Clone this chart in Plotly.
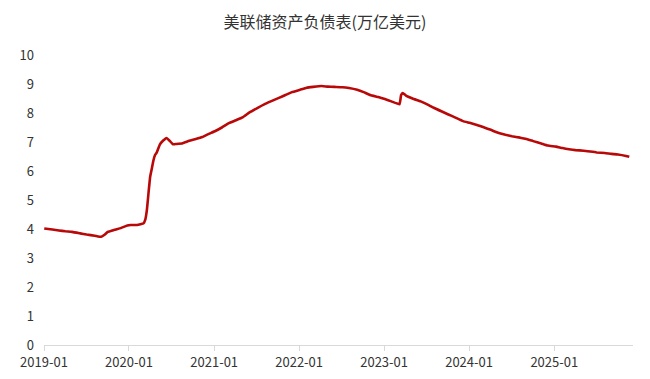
import plotly.graph_objects as go

dates = [
    "2019-01-02", "2019-02-06", "2019-03-06", "2019-04-03", "2019-05-01", "2019-06-05",
    "2019-07-03", "2019-08-07", "2019-09-04", "2019-09-18", "2019-10-02", "2019-10-30",
    "2019-11-27", "2019-12-25", "2020-01-08", "2020-02-05", "2020-03-04", "2020-03-11",
    "2020-03-18", "2020-03-25", "2020-04-01", "2020-04-08", "2020-04-15", "2020-04-22",
    "2020-04-29", "2020-05-13", "2020-05-27", "2020-06-10", "2020-06-24", "2020-07-08",
    "2020-07-22", "2020-08-19", "2020-09-16", "2020-10-14", "2020-11-11", "2020-12-09",
    "2021-01-06", "2021-02-03", "2021-03-03", "2021-04-07", "2021-05-05", "2021-06-02",
    "2021-07-07", "2021-08-04", "2021-09-01", "2021-10-06", "2021-11-03", "2021-12-01",
    "2022-01-05", "2022-02-02", "2022-03-02", "2022-04-06", "2022-05-04", "2022-06-01",
    "2022-07-06", "2022-08-03", "2022-09-07", "2022-10-05", "2022-11-02", "2022-12-07",
    "2023-01-04", "2023-02-01", "2023-03-08", "2023-03-15", "2023-03-22", "2023-04-05",
    "2023-05-03", "2023-06-07", "2023-07-05", "2023-08-02", "2023-09-06", "2023-10-04",
    "2023-11-01", "2023-12-06", "2024-01-03", "2024-02-07", "2024-03-06", "2024-04-03",
    "2024-05-01", "2024-06-05", "2024-07-03", "2024-08-07", "2024-09-04", "2024-10-02",
    "2024-11-06", "2024-12-04", "2025-01-08", "2025-02-05", "2025-03-05", "2025-04-02",
    "2025-05-07", "2025-06-04", "2025-07-02", "2025-08-06", "2025-09-03", "2025-10-01",
    "2025-11-05", "2025-11-19",
]

balance = [
    4.02, 3.98, 3.95, 3.92, 3.90, 3.85,
    3.81, 3.77, 3.73, 3.80, 3.90, 3.97,
    4.03, 4.12, 4.14, 4.14, 4.20, 4.32,
    4.66, 5.25, 5.80, 6.08, 6.36, 6.55,
    6.63, 6.92, 7.05, 7.14, 7.04, 6.92,
    6.93, 6.96, 7.04, 7.10, 7.17, 7.28,
    7.38, 7.50, 7.64, 7.76, 7.86, 8.02,
    8.18, 8.30, 8.40, 8.52, 8.62, 8.72,
    8.80, 8.87, 8.90, 8.93, 8.91, 8.90,
    8.89, 8.86, 8.80, 8.72, 8.62, 8.55,
    8.48, 8.40, 8.30, 8.62, 8.69, 8.60,
    8.50, 8.40, 8.30, 8.18, 8.05, 7.95,
    7.85, 7.72, 7.66, 7.58, 7.50, 7.42,
    7.33, 7.25, 7.20, 7.15, 7.10, 7.03,
    6.95, 6.88, 6.84, 6.79, 6.75, 6.72,
    6.70, 6.67, 6.64, 6.62, 6.59, 6.57,
    6.52, 6.49,
]

tick_vals = ["2019-01-01", "2020-01-01", "2021-01-01", "2022-01-01",
             "2023-01-01", "2024-01-01", "2025-01-01"]
tick_text = ["2019-01", "2020-01", "2021-01", "2022-01", "2023-01", "2024-01", "2025-01"]
y_ticks = [0, 1, 2, 3, 4, 5, 6, 7, 8, 9, 10]

fig = go.Figure()
fig.add_trace(go.Scatter(
    x=dates, y=balance, mode="lines",
    line=dict(color="#B80808", width=2.6, shape="spline", smoothing=0.3),
    hoverinfo="x+y",
))

font_family = "Noto Sans CJK SC, Noto Sans, sans-serif"
fig.update_layout(
    width=650, height=379,
    margin=dict(l=44, r=17, t=55, b=34),
    paper_bgcolor="white", plot_bgcolor="white",
    showlegend=False,
    font=dict(family=font_family, size=13, color="#333333"),
    title=dict(text="美联储资产负债表(万亿美元)", x=0.5, xanchor="center",
               y=0.94, yanchor="middle",
               font=dict(family=font_family, size=16, color="#333333")),
    xaxis=dict(
        type="date",
        range=["2019-01-01", "2025-12-05"],
        tickvals=tick_vals, ticktext=tick_text,
        showgrid=False, zeroline=False, automargin=False,
        showline=True, linecolor="#D9D9D9", linewidth=1,
        ticks="outside", tickcolor="#D9D9D9", ticklen=5,
        tickfont=dict(size=13, color="#333333"),
    ),
    yaxis=dict(
        range=[0, 10], tickvals=y_ticks, automargin=False,
        showgrid=False, zeroline=False, showline=False,
        ticks="", ticklabelstandoff=9,
        tickfont=dict(size=13, color="#333333"),
    ),
)

fig.write_html("out.html")
